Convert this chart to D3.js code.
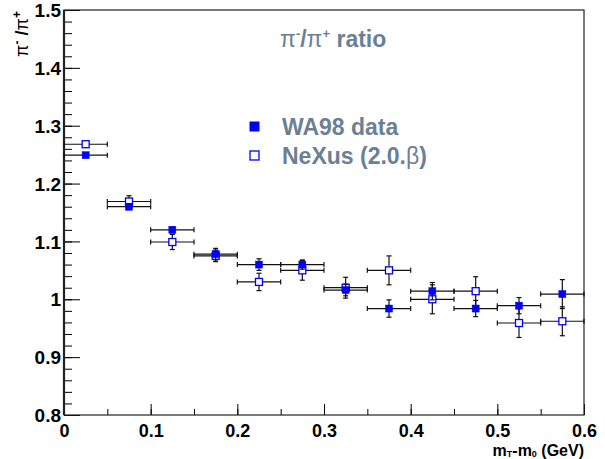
<!DOCTYPE html>
<html>
<head>
<meta charset="utf-8">
<script src="https://cdn.jsdelivr.net/npm/d3@7"></script>
<style>
  body { margin: 0; background: #fff; }
  text { font-family: "Liberation Sans", Arial, Helvetica, sans-serif; font-weight: bold; }
</style>
</head>
<body>
<div id="chart"></div>
<script>
// bin centres and half widths (GeV)
var binCentres = [0.025, 0.075, 0.125, 0.175, 0.225, 0.275, 0.325, 0.375, 0.425, 0.475, 0.525, 0.575];
var binHalf = [0.025, 0.025, 0.025, 0.025, 0.025, 0.025, 0.025, 0.025, 0.025, 0.025, 0.025, 0.025];

// WA98 data
var wa98 = [1.249, 1.160, 1.120, 1.078, 1.060, 1.060, 1.016, 0.984, 1.014, 0.984, 0.989, 1.009];
var wa98Err = [0.003, 0.005, 0.005, 0.010, 0.010, 0.008, 0.010, 0.015, 0.015, 0.014, 0.014, 0.025];

// NeXus (2.0.beta)
var nexus = [1.268, 1.169, 1.099, 1.075, 1.030, 1.050, 1.020, 1.050, 1.000, 1.014, 0.959, 0.962];
var nexusErr = [0.005, 0.010, 0.013, 0.010, 0.015, 0.017, 0.018, 0.025, 0.025, 0.025, 0.025, 0.025];

var xTicks = [0, 0.1, 0.2, 0.3, 0.4, 0.5, 0.6];
var yTicks = [0.8, 0.9, 1, 1.1, 1.2, 1.3, 1.4, 1.5];

var width = 605, height = 459;
var margin = { top: 10, right: 21, bottom: 44, left: 64 };
var w = width - margin.left - margin.right,
  h = height - margin.top - margin.bottom;

var x = d3.scaleLinear().domain([0, 0.6]).range([0, w]);
var y = d3.scaleLinear().domain([0.8, 1.5]).range([h, 0]);

var svg = d3
  .select("#chart")
  .append("svg")
  .attr("width", width)
  .attr("height", height);

var g = svg.append("g").attr("transform", "translate(" + margin.left + "," + margin.top + ")");

// minor ticks first
var xMinor = d3.range(0, 0.6001, 0.05);
var yMinor = d3.range(0.8, 1.5001, 0.02);

g.append("g")
  .attr("transform", "translate(0," + h + ")")
  .call(d3.axisTop(x).tickValues(xMinor).tickSize(6).tickFormat(""))
  .call(function(a) { a.select(".domain").remove(); });

g.append("g")
  .call(d3.axisRight(y).tickValues(yMinor).tickSize(8).tickFormat(""))
  .call(function(a) { a.select(".domain").remove(); });

// major ticks with labels
var xAxis = g.append("g")
  .attr("transform", "translate(0," + h + ")")
  .call(d3.axisTop(x).tickValues(xTicks).tickSize(11).tickFormat(d3.format("")));
xAxis.select(".domain").remove();
xAxis.selectAll("text")
  .attr("y", 22)
  .attr("dy", 0)
  .style("font-size", "18px")
  .attr("fill", "#000");

var yAxis = g.append("g")
  .call(d3.axisRight(y).tickValues(yTicks).tickSize(16).tickFormat(d3.format("")));
yAxis.select(".domain").remove();
yAxis.selectAll("text")
  .attr("x", -3)
  .attr("dy", "0.35em")
  .attr("text-anchor", "end")
  .style("font-size", "19px")
  .attr("fill", "#000");

// frame
g.append("rect")
  .attr("x", 0).attr("y", 0)
  .attr("width", w).attr("height", h)
  .attr("fill", "none")
  .attr("stroke", "#222")
  .attr("stroke-width", 1.2);
g.append("line")
  .attr("x1", 0).attr("x2", 0).attr("y1", 0).attr("y2", h)
  .attr("stroke", "#222").attr("stroke-width", 2.2);

// error bars + markers
function drawSeries(vals, errs, filled) {
  var s = g.append("g");
  var cap = 2.5;
  binCentres.forEach(function(c, i) {
    var cy = y(vals[i]);
    var x0 = x(c - binHalf[i]), x1 = x(c + binHalf[i]);
    var y0 = y(vals[i] - errs[i]), y1 = y(vals[i] + errs[i]);
    s.append("line").attr("x1", x0).attr("x2", x1).attr("y1", cy).attr("y2", cy);
    s.append("line").attr("x1", x0).attr("x2", x0).attr("y1", cy - cap).attr("y2", cy + cap);
    s.append("line").attr("x1", x1).attr("x2", x1).attr("y1", cy - cap).attr("y2", cy + cap);
    s.append("line").attr("x1", x(c)).attr("x2", x(c)).attr("y1", y0).attr("y2", y1);
    s.append("line").attr("x1", x(c) - cap).attr("x2", x(c) + cap).attr("y1", y0).attr("y2", y0);
    s.append("line").attr("x1", x(c) - cap).attr("x2", x(c) + cap).attr("y1", y1).attr("y2", y1);
  });
  s.selectAll("line").attr("stroke", "#111").attr("stroke-width", 1.2);
  s.selectAll("rect.mk")
    .data(vals)
    .enter()
    .append("rect")
    .attr("class", "mk")
    .attr("x", function(d, i) { return x(binCentres[i]) - 3.5; })
    .attr("y", function(d) { return y(d) - 3.5; })
    .attr("width", 7)
    .attr("height", 7)
    .attr("fill", filled ? "#0000ff" : "#fff")
    .attr("stroke", "#0000ff")
    .attr("stroke-width", filled ? 0.5 : 1.3);
}
drawSeries(nexus, nexusErr, false);
drawSeries(wa98, wa98Err, true);

// title and legend
var labelColor = "#6b8095";
var title = svg.append("text")
  .attr("x", 280).attr("y", 47)
  .attr("fill", labelColor)
  .style("font-size", "23px");
title.append("tspan").style("font-weight", "normal").text("π");
title.append("tspan").attr("dy", -9).style("font-size", "13px").text("-");
title.append("tspan").attr("dy", 9).text("/");
title.append("tspan").style("font-weight", "normal").text("π");
title.append("tspan").attr("dy", -9).style("font-size", "13px").text("+");
title.append("tspan").attr("dy", 9).text(" ratio");

svg.append("rect")
  .attr("x", 250).attr("y", 122).attr("width", 9).attr("height", 9)
  .attr("fill", "#0000ff").attr("stroke", "#0000ff");
svg.append("rect")
  .attr("x", 250).attr("y", 151).attr("width", 9).attr("height", 9)
  .attr("fill", "#fff").attr("stroke", "#0000ff").attr("stroke-width", 1.3);
svg.append("text")
  .attr("x", 282).attr("y", 135)
  .attr("fill", labelColor)
  .style("font-size", "23px")
  .text("WA98 data");
var nx = svg.append("text")
  .attr("x", 282).attr("y", 164)
  .attr("fill", labelColor)
  .style("font-size", "23px");
nx.append("tspan").text("NeXus (2.0.");
nx.append("tspan").style("font-weight", "normal").text("β");
nx.append("tspan").text(")");

// axis titles
var yt = svg.append("text")
  .attr("transform", "translate(28,11) rotate(-90)")
  .attr("text-anchor", "end")
  .style("font-size", "18px");
yt.append("tspan").style("font-weight", "normal").text("π");
yt.append("tspan").attr("dy", -7).style("font-size", "12px").text("-");
yt.append("tspan").attr("dy", 7).text(" /");
yt.append("tspan").style("font-weight", "normal").text("π");
yt.append("tspan").attr("dy", -7).style("font-size", "12px").text("+");

var xt = svg.append("text")
  .attr("x", 584).attr("y", 456)
  .attr("text-anchor", "end")
  .style("font-size", "16px");
xt.append("tspan").text("m");
xt.append("tspan").attr("dy", 1).style("font-size", "9px").text("T");
xt.append("tspan").attr("dy", -1).text("-m");
xt.append("tspan").attr("dy", 1).style("font-size", "9px").text("0");
xt.append("tspan").attr("dy", -1).text(" (GeV)");
</script>
</body>
</html>
